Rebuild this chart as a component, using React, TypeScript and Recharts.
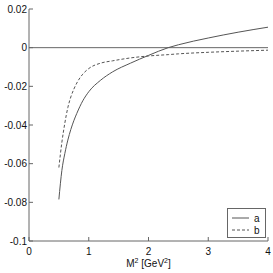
import React from 'react';
import {
  LineChart, Line, XAxis, YAxis, ReferenceLine, Legend,
} from 'recharts';

// M^2 [GeV^2] sample points and the two curves
const M2 = [0.5, 0.55, 0.6, 0.65, 0.7, 0.75, 0.8, 0.9, 1.0, 1.2, 1.4, 1.7, 2.0, 2.33, 2.5, 3.0, 3.5, 4.0];
const SERIES_A = [-0.0785, -0.0635, -0.0547, -0.0478, -0.0423, -0.0378, -0.034, -0.0275, -0.0228, -0.0168, -0.0125, -0.008, -0.004, 0, 0.0015, 0.005, 0.008, 0.0106];
const SERIES_B = [-0.062, -0.049, -0.039, -0.031, -0.0255, -0.0215, -0.0183, -0.0137, -0.0108, -0.008, -0.0068, -0.0053, -0.0043, -0.0036, -0.0032, -0.0024, -0.0018, -0.0013];

const X_TICKS = [0, 1, 2, 3, 4];
const Y_TICKS = [-0.1, -0.08, -0.06, -0.04, -0.02, 0, 0.02];

const data = M2.map((m, i) => ({ m, a: SERIES_A[i], b: SERIES_B[i] }));

const INK = '#555';
const FRAME = '#666';
const TEXT = '#111';
const FONT = '"Liberation Sans", Arial, sans-serif';

const BottomTick = (props: any) => {
  const { x, y, payload } = props;
  return (
    <g>
      <line x1={x} y1={y} x2={x} y2={y - 4} stroke={FRAME} />
      <text x={x} y={y + 14} textAnchor="middle" fontSize={10} fill={TEXT} fontFamily={FONT}>
        {payload.value}
      </text>
    </g>
  );
};

const TopTick = (props: any) => {
  const { x, y } = props;
  return <line x1={x} y1={y} x2={x} y2={y + 4} stroke={FRAME} />;
};

const LeftTick = (props: any) => {
  const { x, y, payload } = props;
  return (
    <g>
      <line x1={x} y1={y} x2={x + 4} y2={y} stroke={FRAME} />
      <text x={x - 2} y={y + 3.5} textAnchor="end" fontSize={10} fill={TEXT} fontFamily={FONT}>
        {String(payload.value)}
      </text>
    </g>
  );
};

const RightTick = (props: any) => {
  const { x, y } = props;
  return <line x1={x} y1={y} x2={x - 4} y2={y} stroke={FRAME} />;
};

const renderXLabel = (props: any) => {
  const vb = props.viewBox;
  const cx = vb.x + vb.width / 2;
  return (
    <text x={cx} y={vb.y + 26} textAnchor="middle" fontSize={10} fill={TEXT} fontFamily={FONT}>
      M<tspan dy={-4} fontSize={7}>2</tspan>
      <tspan dy={4}> [GeV</tspan>
      <tspan dy={-4} fontSize={7}>2</tspan>
      <tspan dy={4}>]</tspan>
    </text>
  );
};

const renderLegend = () => (
  <svg width={37} height={28} style={{ display: 'block' }}>
    <line x1={4} y1={9} x2={21} y2={9} stroke={INK} />
    <text x={26} y={12.5} fontSize={10} fill={TEXT} fontFamily={FONT}>a</text>
    <line x1={4} y1={21} x2={21} y2={21} stroke={INK} strokeDasharray="3 2" />
    <text x={26} y={24.5} fontSize={10} fill={TEXT} fontFamily={FONT}>b</text>
  </svg>
);

export default function App() {
  return (
    <div style={{ position: 'absolute', left: 0, top: 0, background: '#fff' }}>
      <LineChart width={273} height={273} data={data} margin={{ top: 9, right: 5, bottom: 0, left: 0 }}>
        <XAxis
          dataKey="m"
          type="number"
          domain={[0, 4]}
          ticks={X_TICKS}
          height={32}
          tickSize={0}
          tickMargin={0}
          tickLine={false}
          stroke={FRAME}
          tick={<BottomTick />}
          interval={0}
          label={{ content: renderXLabel }}
        />
        <XAxis
          xAxisId="top"
          orientation="top"
          dataKey="m"
          type="number"
          domain={[0, 4]}
          ticks={X_TICKS}
          height={0}
          tickSize={0}
          tickMargin={0}
          tickLine={false}
          stroke={FRAME}
          tick={<TopTick />}
          interval={0}
        />
        <YAxis
          type="number"
          domain={[-0.1, 0.02]}
          ticks={Y_TICKS}
          width={29}
          tickSize={0}
          tickMargin={0}
          tickLine={false}
          stroke={FRAME}
          tick={<LeftTick />}
          interval={0}
          allowDataOverflow
        />
        <YAxis
          yAxisId="right"
          orientation="right"
          type="number"
          domain={[-0.1, 0.02]}
          ticks={Y_TICKS}
          width={0}
          tickSize={0}
          tickMargin={0}
          tickLine={false}
          stroke={FRAME}
          tick={<RightTick />}
          interval={0}
        />
        <ReferenceLine y={0} stroke={FRAME} />
        <Line type="monotone" dataKey="a" stroke={INK} strokeWidth={1} dot={false} isAnimationActive={false} />
        <Line type="monotone" dataKey="b" stroke={INK} strokeWidth={1} strokeDasharray="3 2" dot={false} isAnimationActive={false} />
        <Legend
          layout="vertical"
          align="center"
          verticalAlign="middle"
          content={renderLegend}
          wrapperStyle={{
            position: 'absolute', left: 227, top: 208, width: 39, height: 30,
            border: `1px solid ${FRAME}`, background: '#fff', boxSizing: 'border-box',
          }}
        />
      </LineChart>
    </div>
  );
}
